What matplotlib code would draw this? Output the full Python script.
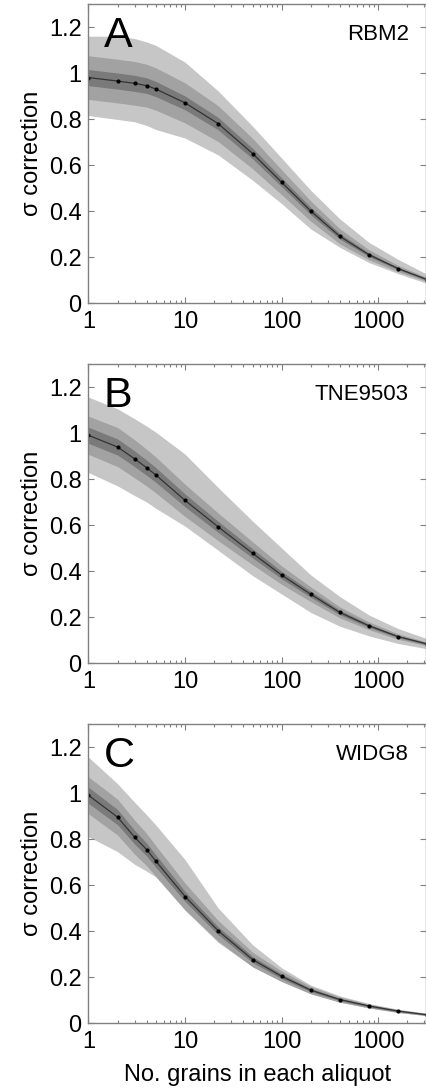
import numpy as np
import matplotlib
matplotlib.use('Agg')
from matplotlib import pyplot as plt
from matplotlib.ticker import LogLocator, FixedLocator, NullFormatter

plt.rcParams['font.family'] = ['Liberation Sans', 'DejaVu Sans']

#%% Data
n_grains = [1, 2, 3, 4, 5, 10, 22, 50, 100, 200, 400, 800, 1600, 3200]
panel_letters = ['A', 'B', 'C']
sample_names = ['RBM2', 'TNE9503', 'WIDG8']

# Panel A (RBM2)
a_mean = [0.98, 0.965, 0.955, 0.945, 0.93, 0.87, 0.78, 0.65, 0.525, 0.40, 0.29, 0.21, 0.15, 0.102]
a_outer_hi = [1.16, 1.16, 1.15, 1.135, 1.12, 1.047, 0.922, 0.769, 0.63, 0.49, 0.366, 0.264, 0.19, 0.125]
a_outer_lo = [0.815, 0.798, 0.788, 0.772, 0.754, 0.717, 0.644, 0.534, 0.432, 0.322, 0.242, 0.176, 0.128, 0.085]
a_mid_hw = [0.095, 0.095, 0.095, 0.093, 0.092, 0.087, 0.078, 0.066, 0.054, 0.044, 0.033, 0.022, 0.014, 0.009]
a_inner_hw = [0.035, 0.035, 0.035, 0.034, 0.033, 0.03, 0.027, 0.023, 0.019, 0.016, 0.012, 0.008, 0.005, 0.004]

# Panel B (TNE9503)
b_mean = [0.99, 0.939, 0.888, 0.849, 0.817, 0.707, 0.592, 0.477, 0.382, 0.299, 0.220, 0.162, 0.115, 0.083]
b_outer_hi = [1.156, 1.105, 1.062, 1.03, 1.003, 0.908, 0.763, 0.617, 0.50, 0.383, 0.289, 0.209, 0.15, 0.106]
b_outer_lo = [0.828, 0.77, 0.728, 0.70, 0.672, 0.595, 0.49, 0.38, 0.30, 0.22, 0.16, 0.118, 0.085, 0.062]
b_mid_hw = [0.083, 0.085, 0.083, 0.08, 0.078, 0.07, 0.06, 0.05, 0.04, 0.032, 0.024, 0.017, 0.012, 0.008]
b_inner_hw = [0.035, 0.035, 0.034, 0.033, 0.032, 0.028, 0.024, 0.02, 0.016, 0.013, 0.01, 0.007, 0.005, 0.004]

# Panel C (WIDG8)
c_mean = [0.99, 0.895, 0.808, 0.754, 0.703, 0.55, 0.401, 0.276, 0.203, 0.143, 0.102, 0.074, 0.052, 0.036]
c_outer_hi = [1.156, 1.04, 0.96, 0.905, 0.86, 0.71, 0.50, 0.34, 0.24, 0.165, 0.118, 0.085, 0.06, 0.043]
c_outer_lo = [0.81, 0.745, 0.69, 0.66, 0.635, 0.49, 0.35, 0.245, 0.183, 0.127, 0.09, 0.065, 0.046, 0.032]
c_mid_hw = [0.08, 0.078, 0.074, 0.07, 0.067, 0.058, 0.045, 0.032, 0.023, 0.016, 0.011, 0.008, 0.006, 0.004]
c_inner_hw = [0.035, 0.033, 0.03, 0.028, 0.027, 0.022, 0.017, 0.013, 0.01, 0.007, 0.005, 0.004, 0.003, 0.002]

panels = [
    (a_mean, a_outer_lo, a_outer_hi, a_mid_hw, a_inner_hw),
    (b_mean, b_outer_lo, b_outer_hi, b_mid_hw, b_inner_hw),
    (c_mean, c_outer_lo, c_outer_hi, c_mid_hw, c_inner_hw),
]

#%% Plot
fig = plt.figure(figsize=(4.27, 10.88), dpi=100)
W, H = 427.0, 1088.0
ax_left, ax_right = 88.5, 426.5
ax_tops = [4, 364, 724]
ax_h = 299.0

x = np.array(n_grains, dtype=float)
for i, (mean, olo, ohi, mhw, ihw) in enumerate(panels):
    top = ax_tops[i]
    ax = fig.add_axes([ax_left / W, (H - top - ax_h) / H, (ax_right - ax_left) / W, ax_h / H])
    m = np.array(mean)
    ax.fill_between(x, olo, ohi, color='#c6c6c6', lw=0)
    ax.fill_between(x, m - np.array(mhw), m + np.array(mhw), color='#a2a2a2', lw=0)
    ax.fill_between(x, m - np.array(ihw), m + np.array(ihw), color='#7a7a7a', lw=0)
    ax.plot(x, m, '-', color='#333333', lw=0.9)
    ax.plot(x, m, 'o', color='black', ms=3, mec='none')

    ax.set_xscale('log')
    ax.set_xlim(1, 10 ** 3.5)
    ax.set_ylim(0, 1.3)
    ax.xaxis.set_major_locator(FixedLocator([1, 10, 100, 1000]))
    ax.xaxis.set_minor_locator(LogLocator(base=10, subs=np.arange(2, 10), numticks=20))
    ax.xaxis.set_minor_formatter(NullFormatter())
    ax.set_xticklabels(['1', '10', '100', '1000'])
    ax.set_yticks([0, 0.2, 0.4, 0.6, 0.8, 1.0, 1.2])
    ax.set_yticklabels(['0', '0.2', '0.4', '0.6', '0.8', '1', '1.2'])
    ax.tick_params(which='both', direction='in', top=True, right=True,
                   color='#808080', labelsize=17, labelcolor='black')
    ax.tick_params(which='major', length=4, width=0.8)
    ax.tick_params(which='minor', length=2.5, width=0.8)
    ax.tick_params(axis='y', pad=5)
    ax.tick_params(axis='x', pad=6)
    for s in ax.spines.values():
        s.set_color('#808080')
        s.set_linewidth(1.0)

    ax.set_ylabel('σ correction', fontsize=17, labelpad=4)
    ax.text(0.045, 0.857, panel_letters[i], transform=ax.transAxes,
            fontsize=31, ha='left', va='baseline')
    ax.text(0.948, 0.879, sample_names[i], transform=ax.transAxes,
            fontsize=16, ha='right', va='baseline')
    if i == 2:
        ax.set_xlabel('No. grains in each aliquot', fontsize=17, labelpad=8)

fig.savefig('out.png', dpi=100)
